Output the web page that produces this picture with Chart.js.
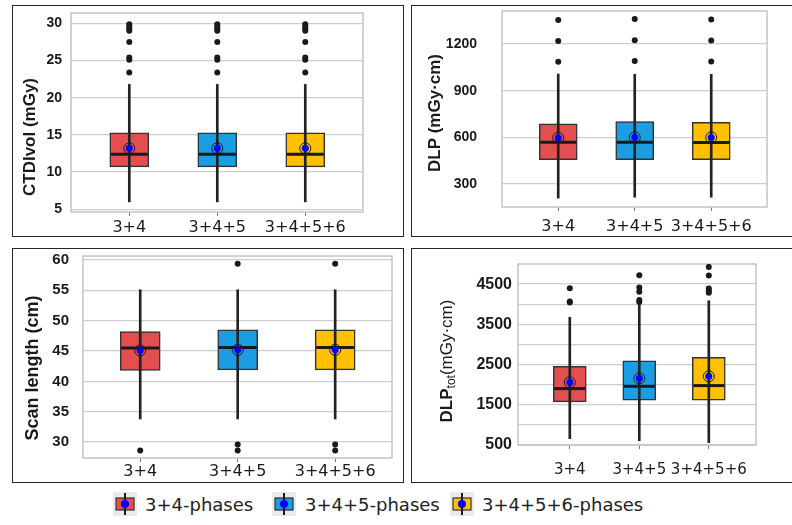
<!DOCTYPE html>
<html>
<head>
<meta charset="utf-8">
<script src="https://cdn.jsdelivr.net/npm/chart.js@4.4.0/dist/chart.umd.min.js"></script>
<style>
  body { margin: 0; background: #fff; width: 792px; height: 525px; overflow: hidden; position: relative; }
  .panel { position: absolute; }
  .panel canvas { display: block; }
  .frame { position: absolute; border: 1.5px solid #262626; box-sizing: border-box; pointer-events: none; }
  .leg-icon { position: absolute; top: 492px; }
  .leg-text { position: absolute; top: 494px; font-family: 'DejaVu Sans', sans-serif; font-size: 18px; color: #222; white-space: nowrap; line-height: 22px; }
</style>
</head>
<body>
<div class="panel" style="left:12px;top:5px"><canvas id="ctdiChart" width="392" height="232"></canvas></div>
<div class="panel" style="left:411px;top:5px"><canvas id="dlpChart" width="383" height="232"></canvas></div>
<div class="panel" style="left:12px;top:248px"><canvas id="scanChart" width="392" height="235"></canvas></div>
<div class="panel" style="left:411px;top:248px"><canvas id="totChart" width="383" height="235"></canvas></div>
<div class="frame" style="left:12px;top:5px;width:392px;height:232px"></div>
<div class="frame" style="left:411px;top:5px;width:383px;height:232px"></div>
<div class="frame" style="left:12px;top:248px;width:392px;height:235px"></div>
<div class="frame" style="left:411px;top:248px;width:383px;height:235px"></div>
<div id="legend"></div>
<script>
const groups = ['3+4', '3+4+5', '3+4+5+6'];
const phaseLabels = ['3+4-phases', '3+4+5-phases', '3+4+5+6-phases'];
const boxColors = ['#E34F4F', '#1B9DE2', '#FFC000'];

// CTDIvol (mGy)
const ctdiQ1 = [10.7, 10.7, 10.7];
const ctdiQ3 = [15.3, 15.3, 15.3];
const ctdiMedian = [12.4, 12.4, 12.4];
const ctdiMean = [13.2, 13.2, 13.2];
const ctdiLow = [6.0, 6.0, 6.0];
const ctdiHigh = [21.8, 21.8, 21.8];
const ctdiOutliers = [
  [29.9, 29.6, 29.3, 29.0, 27.5, 25.4, 25.1, 23.4],
  [29.9, 29.6, 29.3, 29.0, 27.5, 25.4, 25.1, 23.4],
  [29.9, 29.6, 29.3, 29.0, 27.5, 25.4, 25.1, 23.4]
];
const ctdiTicks = [5, 10, 15, 20, 25, 30];

// DLP (mGy·cm)
const dlpQ1 = [457, 457, 457];
const dlpQ3 = [686, 701, 697];
const dlpMedian = [568, 568, 566];
const dlpMean = [597, 600, 599];
const dlpLow = [209, 215, 215];
const dlpHigh = [1007, 1005, 1005];
const dlpOutliers = [[1354, 1219, 1086], [1361, 1224, 1090], [1358, 1222, 1088]];
const dlpTicks = [300, 600, 900, 1200];

// Scan length (cm)
const scanQ1 = [41.8, 41.9, 41.9];
const scanQ3 = [48.2, 48.5, 48.5];
const scanMedian = [45.5, 45.6, 45.6];
const scanMean = [45.1, 45.2, 45.2];
const scanLow = [33.8, 33.8, 33.8];
const scanHigh = [55.1, 55.1, 55.1];
const scanOutliers = [[28.6], [59.4, 29.6, 28.6], [59.4, 29.6, 28.6]];
const scanTicks = [30, 35, 40, 45, 50, 55, 60];

// DLPtot (mGy·cm)
const totQ1 = [1573, 1613, 1613];
const totQ3 = [2454, 2595, 2677];
const totMedian = [1902, 1960, 1977];
const totMean = [2058, 2157, 2207];
const totLow = [657, 608, 559];
const totHigh = [3676, 3990, 4087];
const totOutliers = [[4400, 4070, 4040], [4723, 4418, 4310, 4104, 4055], [4928, 4715, 4393, 4334, 4285]];
const totGridTicks = [500, 1000, 1500, 2000, 2500, 3000, 3500, 4000, 4500];
const totTickLabels = [500, 1500, 2500, 3500, 4500];

// grey frame round the plot area
const plotFrame = {
  id: 'plotFrame',
  beforeDatasetsDraw(chart) {
    const a = chart.chartArea, ctx = chart.ctx;
    ctx.save();
    ctx.strokeStyle = '#c4c4c4';
    ctx.lineWidth = 1.5;
    ctx.strokeRect(a.left, a.top, a.right - a.left, a.bottom - a.top);
    ctx.restore();
  }
};

// rotated y title, drawn in pieces so DLPtot can have its subscript
const yTitle = {
  id: 'yTitle',
  afterDraw(chart, args, opts) {
    const ctx = chart.ctx;
    ctx.save();
    ctx.translate(opts.x, opts.y);
    ctx.rotate(-Math.PI / 2);
    ctx.fillStyle = '#1a1a1a';
    ctx.textBaseline = 'middle';
    let total = 0;
    opts.parts.forEach(p => { ctx.font = p.font; p.w = ctx.measureText(p.text).width; total += p.w; });
    let x = -total / 2;
    opts.parts.forEach(p => { ctx.font = p.font; ctx.fillText(p.text, x, p.dy || 0); x += p.w; });
    ctx.restore();
  }
};

function boxDatasets(q1, q3, median, mean, low, high, outliers, boxWidth) {
  const xs = groups.map((g, i) => i);
  return [
    { type: 'bar', data: xs.map(i => ({ x: i, y: [q1[i], q3[i]] })), backgroundColor: boxColors,
      borderColor: '#333', borderWidth: 1.5, borderSkipped: false, barThickness: boxWidth, grouped: false, order: 5 },
    { type: 'bar', data: xs.map(i => ({ x: i, y: [low[i], high[i]] })), backgroundColor: '#222',
      borderWidth: 0, barThickness: 2, grouped: false, order: 4 },
    { type: 'scatter', data: xs.map(i => ({ x: i, y: median[i] })), pointStyle: 'line',
      pointRadius: boxWidth / 2 - 1, pointBorderColor: '#1a1a1a', pointBorderWidth: 3, order: 3 },
    { type: 'scatter', data: xs.map(i => ({ x: i, y: mean[i] })), pointRadius: 5.5,
      pointBackgroundColor: 'rgba(0,0,0,0)', pointBorderColor: '#1a1a1a', pointBorderWidth: 1, order: 2 },
    { type: 'scatter', data: xs.map(i => ({ x: i, y: mean[i] })), pointRadius: 3.5,
      pointBackgroundColor: '#0000ff', pointBorderWidth: 0, order: 1 },
    { type: 'scatter', data: outliers.flatMap((list, i) => list.map(v => ({ x: i, y: v }))), pointRadius: 3,
      pointBackgroundColor: '#1a1a1a', pointBorderWidth: 0, order: 0 }
  ];
}

function makePanel(id, datasets, c) {
  return new Chart(document.getElementById(id), {
    type: 'bar',
    data: { datasets },
    options: {
      responsive: false,
      animation: false,
      // the long median "line" points would otherwise push the plot area inwards
      layout: { autoPadding: false, padding: { left: 0, top: c.padTop, right: c.padRight, bottom: 0 } },
      plugins: {
        legend: { display: false },
        tooltip: { enabled: false },
        yTitle: { x: c.titleX, y: c.titleY, parts: c.title }
      },
      scales: {
        x: {
          type: 'linear', min: c.xMin, max: c.xMax, offset: false,
          afterBuildTicks: s => { s.ticks = groups.map((g, i) => ({ value: i })); },
          afterFit: s => { s.height = c.xHeight; },
          grid: { drawOnChartArea: false, offset: false, tickLength: 4, tickColor: '#777' },
          border: { display: false },
          ticks: { autoSkip: false, maxRotation: 0, padding: c.xPad, color: '#1a1a1a',
            font: { family: 'DejaVu Sans', size: c.xSize || 16 }, callback: v => groups[v] }
        },
        y: {
          min: c.yMin, max: c.yMax,
          afterBuildTicks: s => { s.ticks = c.gridTicks.map(v => ({ value: v })); },
          afterFit: s => { s.width = c.yWidth; },
          // tick line runs from the label side to the axis; the dash keeps only the part next to the axis
          grid: { color: '#cdcdcd', lineWidth: 1.3, tickLength: c.tickLen + c.yGap,
            tickBorderDash: [c.tickLen, c.yGap + 50], tickBorderDashOffset: c.tickLen,
            tickColor: ctx => c.labels.includes(ctx.tick.value) ? '#444' : 'rgba(0,0,0,0)' },
          border: { display: false },
          ticks: { padding: c.yPad, color: '#1a1a1a',
            font: { family: 'Liberation Sans', size: c.tickSize, weight: 'bold', lineHeight: 1 },
            callback: v => c.labels.includes(v) ? String(v) : '' },
          title: { display: false }
        }
      }
    },
    plugins: [plotFrame, yTitle]
  });
}

makePanel('ctdiChart', boxDatasets(ctdiQ1, ctdiQ3, ctdiMedian, ctdiMean, ctdiLow, ctdiHigh, ctdiOutliers, 39), {
  padTop: 8, padRight: 41, yWidth: 59, xHeight: 25, xMin: -0.6625, xMax: 2.656, xPad: 2,
  yMin: 4.64, yMax: 31.4, gridTicks: ctdiTicks, labels: ctdiTicks, tickLen: 5, yGap: 4, yPad: 0, tickSize: 14,
  titleX: 18, titleY: 132, title: [{ text: 'CTDIvol (mGy)', font: 'bold 17px "Liberation Sans"' }]
});

makePanel('dlpChart', boxDatasets(dlpQ1, dlpQ3, dlpMedian, dlpMean, dlpLow, dlpHigh, dlpOutliers, 38), {
  padTop: 6, padRight: 27, yWidth: 91, xHeight: 30, xMin: -0.735, xMax: 2.729, xPad: 6,
  yMin: 152, yMax: 1412, gridTicks: dlpTicks, labels: dlpTicks, tickLen: 6, yGap: 20, yPad: -1, tickSize: 14,
  titleX: 24, titleY: 108, title: [{ text: 'DLP (mGy·cm)', font: 'bold 17px "Liberation Sans"' }]
});

makePanel('scanChart', boxDatasets(scanQ1, scanQ3, scanMedian, scanMean, scanLow, scanHigh, scanOutliers, 40), {
  padTop: 8, padRight: 12, yWidth: 71, xHeight: 25, xMin: -0.587, xMax: 2.583, xPad: 0,
  yMin: 27.37, yMax: 60.66, gridTicks: scanTicks, labels: scanTicks, tickLen: 5, yGap: 9, yPad: 0, tickSize: 15,
  titleX: 21, titleY: 120, title: [{ text: 'Scan length (cm)', font: 'bold 18px "Liberation Sans"' }]
});

makePanel('totChart', boxDatasets(totQ1, totQ3, totMedian, totMean, totLow, totHigh, totOutliers, 33), {
  padTop: 16, padRight: 38, yWidth: 107, xHeight: 38, xMin: -0.745, xMax: 2.679, xPad: 12, xSize: 15,
  yMin: 500, yMax: 5000, gridTicks: totGridTicks, labels: totTickLabels, tickLen: 4, yGap: 2, yPad: 0, tickSize: 16,
  titleX: 36, titleY: 113, title: [
    { text: 'DLP', font: 'bold 17px "Liberation Sans"' },
    { text: 'tot', font: '12px "Liberation Sans"', dy: 5 },
    { text: '(mGy·cm)', font: '17px "Liberation Sans"' }
  ]
});

// legend below the panels
const legendIconX = [113, 272, 450];
const legendTextX = [145, 305, 482];
const legend = document.getElementById('legend');
phaseLabels.forEach((label, i) => {
  const c = document.createElement('canvas');
  c.width = 24; c.height = 24;
  c.className = 'leg-icon';
  c.style.left = legendIconX[i] + 'px';
  const g = c.getContext('2d');
  g.fillStyle = '#ebebeb';
  g.fillRect(0, 0, 24, 24);
  g.fillStyle = boxColors[i];
  g.fillRect(3, 6, 18, 12);
  g.strokeStyle = '#333';
  g.lineWidth = 1.2;
  g.strokeRect(3, 6, 18, 12);
  g.fillStyle = '#1a1a1a';
  g.fillRect(11, 1, 2, 22);
  g.beginPath();
  g.arc(12, 12, 4, 0, Math.PI * 2);
  g.fillStyle = '#0000ff';
  g.fill();
  legend.appendChild(c);
  const t = document.createElement('div');
  t.className = 'leg-text';
  t.style.left = legendTextX[i] + 'px';
  t.textContent = label;
  legend.appendChild(t);
});
</script>
</body>
</html>
